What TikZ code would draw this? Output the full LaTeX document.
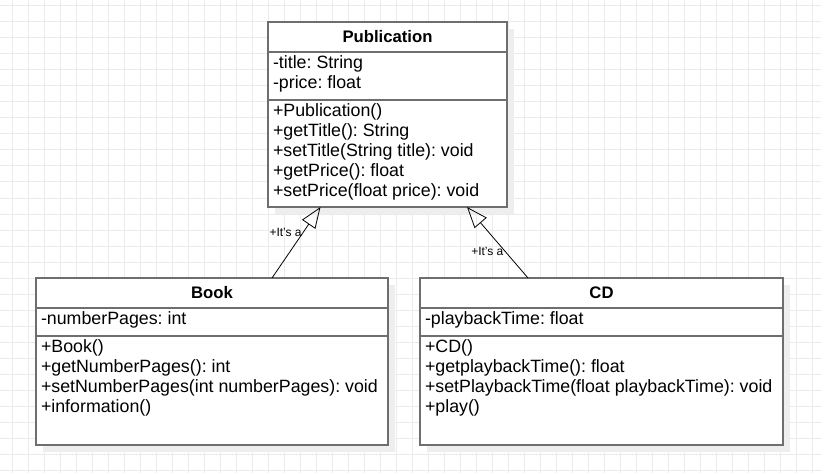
\documentclass[tikz,border=0pt]{standalone}
\usepackage{fontspec}
\setmainfont{Liberation Sans}
\usetikzlibrary{positioning,arrows.meta,shadows}

\definecolor{linegray}{HTML}{6E6E6E}
\definecolor{gridgray}{HTML}{EBEBEB}
\definecolor{shadegray}{HTML}{EEEEEE}

\newcommand{\umlmembers}[3]{\parbox[t][#1][t]{#2}{\frenchspacing #3}}

\tikzset{
    umlpart/.style={draw=linegray, line width=1.5pt, fill=white, outer sep=0pt,
        general shadow={fill=shadegray, shadow xshift=7pt, shadow yshift=-7pt}},
    classname/.style={umlpart, font=\fontsize{16.7}{20}\selectfont\bfseries,
        minimum width=#1, minimum height=30pt, inner sep=0pt, anchor=north},
    members/.style={umlpart, font=\fontsize{17.8}{20}\selectfont,
        inner xsep=5pt, inner ysep=4pt, anchor=north},
    isa/.style={draw=black, line width=0.8pt,
        -{Triangle[open, length=21pt, width=16pt]}},
    isalabel/.style={font=\fontsize{12}{14}\selectfont, inner sep=1pt, anchor=east},
    gridline/.style={draw=gridgray, line width=1pt}
}

\begin{document}
\begin{tikzpicture}[x=1pt, y=-1pt]
    \useasboundingbox (0,0) rectangle (821,473);
    \fill[white] (0,0) rectangle (821,473);
    % background grid
    \foreach \x in {12,28,...,812}
        \draw[gridline] (\x,0) -- (\x,473);
    \foreach \y in {6,22,...,470}
        \draw[gridline] (0,\y) -- (821,\y);

    % Publication
    \node[classname=239pt] (pubhead) at (387.5,22) {Publication};
    \node[members, below=0pt of pubhead] (pubattr)
        {\umlmembers{40pt}{229pt}{-title: String\\-price: float}};
    \node[members, below=0pt of pubattr] (pubmeth)
        {\umlmembers{99pt}{229pt}{+Publication()\\+getTitle(): String\\
        +setTitle(String title): void\\+getPrice(): float\\
        +setPrice(float price): void}};

    % Book
    \node[classname=352pt] (bookhead) at (212,278) {Book};
    \node[members, below=0pt of bookhead] (bookattr)
        {\umlmembers{20pt}{342pt}{-numberPages: int}};
    \node[members, below=0pt of bookattr] (bookmeth)
        {\umlmembers{101pt}{342pt}{+Book()\\+getNumberPages(): int\\
        +setNumberPages(int numberPages): void\\+information()}};

    % CD
    \node[classname=363pt] (cdhead) at (601.5,278) {CD};
    \node[members, below=0pt of cdhead] (cdattr)
        {\umlmembers{20pt}{353pt}{-playbackTime: float}};
    \node[members, below=0pt of cdattr] (cdmeth)
        {\umlmembers{101pt}{353pt}{+CD()\\+getplaybackTime(): float\\
        +setPlaybackTime(float playbackTime): void\\+play()}};

    % generalisation
    \draw[isa] ([xshift=60pt]bookhead.north)
        -- node[isalabel, pos=0.64] {+It's a} ([xshift=-67pt]pubmeth.south);
    \draw[isa] ([xshift=-73.5pt]cdhead.north)
        -- node[isalabel, pos=0.38] {+It's a} ([xshift=79.5pt]pubmeth.south);
\end{tikzpicture}
\end{document}
